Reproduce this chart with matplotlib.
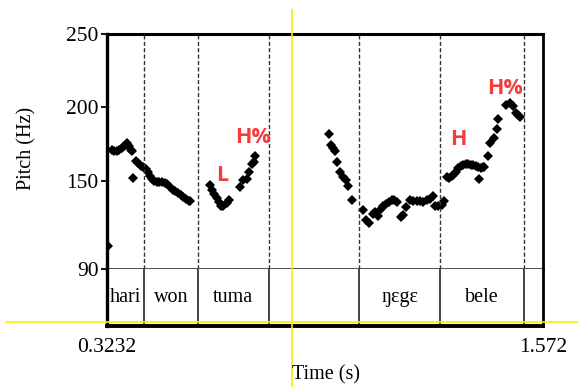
import matplotlib
matplotlib.use("Agg")
import matplotlib.pyplot as plt
from matplotlib.lines import Line2D

# pitch track (s, Hz)
time_s = [0.325,
          0.3367, 0.3433, 0.3510, 0.3576, 0.3653, 0.3719, 0.3796, 0.3854, 0.3911, 0.3957,
          0.3985, 0.4063, 0.4129, 0.4197, 0.4272, 0.4341, 0.4415, 0.4464, 0.4512, 0.4578,
          0.4656, 0.4730, 0.4808, 0.4885, 0.4959, 0.5037, 0.5114, 0.5188, 0.5266, 0.5343,
          0.5418, 0.5495, 0.5572, 0.5610,
          0.6182, 0.6248, 0.6306, 0.6374, 0.6440, 0.6498, 0.6563, 0.6661, 0.6735,
          0.7042, 0.7136, 0.7234, 0.7300, 0.7394, 0.7443, 0.7471,
          0.9591, 0.9649, 0.9714, 0.9763, 0.9829, 0.9906, 1.0001, 1.0078, 1.0144, 1.0259,
          1.0574, 1.0651, 1.0737, 1.0843, 1.0909, 1.1003, 1.1072, 1.1147, 1.1224, 1.1310,
          1.1387, 1.1462, 1.1531, 1.1654, 1.1720, 1.1788, 1.1911, 1.2006, 1.2103, 1.2198,
          1.2292, 1.2390, 1.2484, 1.2579, 1.2628, 1.2722, 1.2820, 1.2877,
          1.2963, 1.3029, 1.3106, 1.3172, 1.3229, 1.3295, 1.3372, 1.3438, 1.3507, 1.3581,
          1.3659, 1.3725, 1.3793, 1.3868, 1.3888, 1.3945, 1.4011, 1.4040, 1.4137, 1.4203,
          1.4326, 1.4412, 1.4441, 1.4653, 1.4776, 1.4871, 1.4940, 1.5014, 1.5062]
pitch_hz = [106,
            170.9, 170.3, 170.3, 170.9, 172.1, 173.9, 175.5, 173.9, 171.1, 170.1,
            151.8, 163.3, 162.0, 160.3, 159.3, 158.1, 155.9, 153.2, 151.4, 149.8,
            149.1, 149.5, 149.1, 148.4, 147.8, 145.7, 144.1, 143.0, 141.9, 140.5,
            139.0, 137.8, 136.5, 136.0,
            147.5, 144.1, 141.2, 138.3, 135.6, 132.9, 132.9, 135.1, 137.0,
            145.7, 150.7, 151.4, 155.9, 161.3, 163.0, 167.1,
            181.8, 174.5, 172.1, 170.1, 162.6, 156.3, 152.5, 150.9, 146.4, 136.7,
            129.9, 123.6, 121.6, 127.7, 128.9, 126.2, 130.6, 132.9, 134.5, 135.6,
            137.2, 136.7, 135.6, 125.5, 126.6, 132.2, 136.7, 136.0, 136.0, 136.0,
            135.6, 136.7, 137.8, 139.7, 132.9, 132.9, 133.8, 136.3,
            152.5, 151.8, 153.2, 154.7, 156.3, 158.6, 159.9, 160.8, 161.5, 161.5,
            161.0, 160.8, 159.9, 159.7, 151.4, 158.6, 159.7, 159.3, 167.1, 175.7,
            179.5, 185.1, 192.4, 202.0, 202.7, 200.9, 196.4, 194.6, 193.7]

# word tier
bounds = [0.3232, 0.4292, 0.5830, 0.7873, 1.0451, 1.2771, 1.5186, 1.572]
words = ["hari", "won", "tuma", "", "ŋɛgɛ", "bele", ""]

# tone labels
tones = ["L", "H%", "H", "H%"]
tone_t = [0.654, 0.740, 1.3307, 1.4641]
tone_f = [153.7, 179.5, 178.0, 213.0]

t_min, t_max = 0.3232, 1.572
yticks = [90, 150, 200, 250]

serif = ["Liberation Serif", "DejaVu Serif"]
plt.rcParams["font.family"] = serif

W, H = 578, 387
fig = plt.figure(figsize=(W / 100, H / 100), dpi=100)

left, right = 107 / W, 543 / W
ax = fig.add_axes([left, 1 - 269 / H, right - left, (269 - 34) / H])
tier = fig.add_axes([left, 1 - 326 / H, right - left, (326 - 269) / H])

# pitch panel
ax.plot(time_s, pitch_hz, linestyle="none", marker="D", markersize=4.8,
        color="black", markeredgewidth=0)
for b in bounds[1:-1]:
    ax.axvline(b, color="#333333", linewidth=1.0, linestyle=(0, (3, 1.6)))
for lab, t, f in zip(tones, tone_t, tone_f):
    ax.text(t, f, lab, color="#f53c3c", fontsize=15.5, fontweight="bold",
            family=["Open Sans", "DejaVu Sans"], ha="center", va="center")

ax.set_xlim(t_min, t_max)
ax.set_ylim(90, 250)
ax.set_yticks(yticks)
ax.set_yticklabels([str(v) for v in yticks], fontsize=15.5)
ax.set_xticks([])
ax.tick_params(axis="y", direction="out", length=4, width=1.3, pad=2)
ax.spines["left"].set_linewidth(2.4)
ax.spines["top"].set_linewidth(2.2)
ax.spines["right"].set_linewidth(2.0)
ax.spines["bottom"].set_linewidth(1.3)
ax.spines["bottom"].set_color("#404040")

# tier panel
for b in bounds[1:-1]:
    tier.axvline(b, color="#222222", linewidth=1.2)
for i, w in enumerate(words):
    if w:
        tier.text((bounds[i] + bounds[i + 1]) / 2, 0.5, w, fontsize=14.5,
                  ha="center", va="center")
tier.set_xlim(t_min, t_max)
tier.set_ylim(0, 1)
tier.set_yticks([])
tier.set_xticks([t_min, t_max])
tier.set_xticklabels(["0.3232", "1.572"], fontsize=15.5)
tier.tick_params(axis="x", length=0, pad=9)
tier.spines["top"].set_visible(False)
tier.spines["left"].set_linewidth(2.4)
tier.spines["right"].set_linewidth(2.0)
tier.spines["bottom"].set_linewidth(2.8)

fig.text(27 / W, 1 - 148 / H, "Pitch (Hz)", rotation=90, fontsize=14.5,
         ha="center", va="center")
fig.text(326 / W, 1 - 375 / H, "Time (s)", fontsize=14.5, ha="center", va="center")

# yellow guide lines
fig.add_artist(Line2D([291.7 / W, 291.7 / W], [0, 1 - 10 / H], color="#f5f000", linewidth=1.2))
fig.add_artist(Line2D([6 / W, 1], [1 - 322.3 / H, 1 - 322.3 / H], color="#f5f000", linewidth=1.2))

fig.savefig("out.png", dpi=100)
